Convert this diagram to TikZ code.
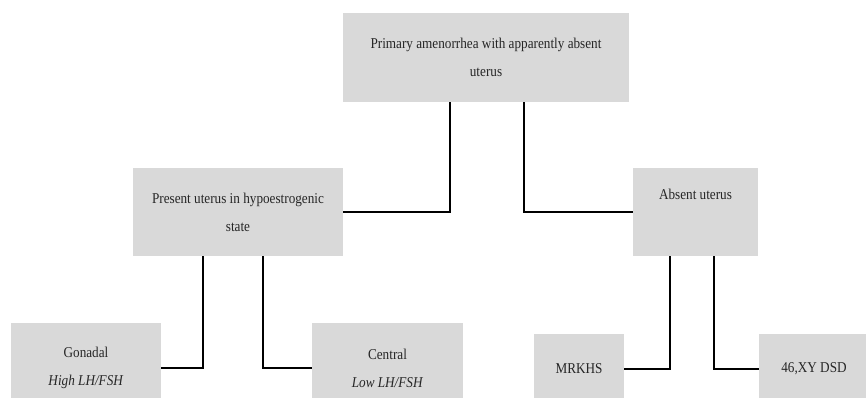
\documentclass[tikz,border=0pt]{standalone}
\usepackage{fontspec}
\setmainfont[FakeStretch=0.88]{Liberation Serif}
\usetikzlibrary{positioning}

\begin{document}
\begin{tikzpicture}[x=1pt, y=-1pt,
            blk/.style={rectangle, fill=black!15, inner sep=0pt, align=center, text=black!85,
                        font=\fontsize{15}{28}\selectfont},
            ed/.style={draw=black, line width=2pt}]
            \useasboundingbox (0,0) rectangle (866,398);
            \clip (0,0) rectangle (866,398);
            \node[blk, minimum width=286pt, minimum height=89pt] (top) at (486,57.5)
                {Primary amenorrhea with apparently absent\\uterus};
            \node[blk, minimum width=210pt, minimum height=88pt] (pres) at (238,212)
                {Present uterus in hypoestrogenic\\state};
            \node[blk, minimum width=125pt, minimum height=88pt] (abs) at (695.5,212)
                {Absent uterus\\\strut};
            \node[blk, minimum width=150pt, minimum height=90pt] (gon) at (86,368)
                {Gonadal\\\textit{High LH/FSH}};
            \node[blk, minimum width=151pt, minimum height=90pt] (cen) at (387.5,368)
                {Central\\\textit{Low LH/FSH}};
            \node[blk, minimum width=90pt, minimum height=70pt] (mrk) at (579,369) {MRKHS};
            \node[blk, minimum width=110pt, minimum height=70pt] (dsd) at (814,369) {46,XY DSD};
            \draw[ed] ([xshift=-36pt]top.south) |- (pres.east);
            \draw[ed] ([xshift=38pt]top.south) |- (abs.west);
            \draw[ed] ([xshift=-35pt]pres.south) |- (gon.east);
            \draw[ed] ([xshift=25pt]pres.south) |- (cen.west);
            \draw[ed] ([xshift=-25.5pt]abs.south) |- (mrk.east);
            \draw[ed] ([xshift=18.5pt]abs.south) |- (dsd.west);
        \end{tikzpicture}
\end{document}
